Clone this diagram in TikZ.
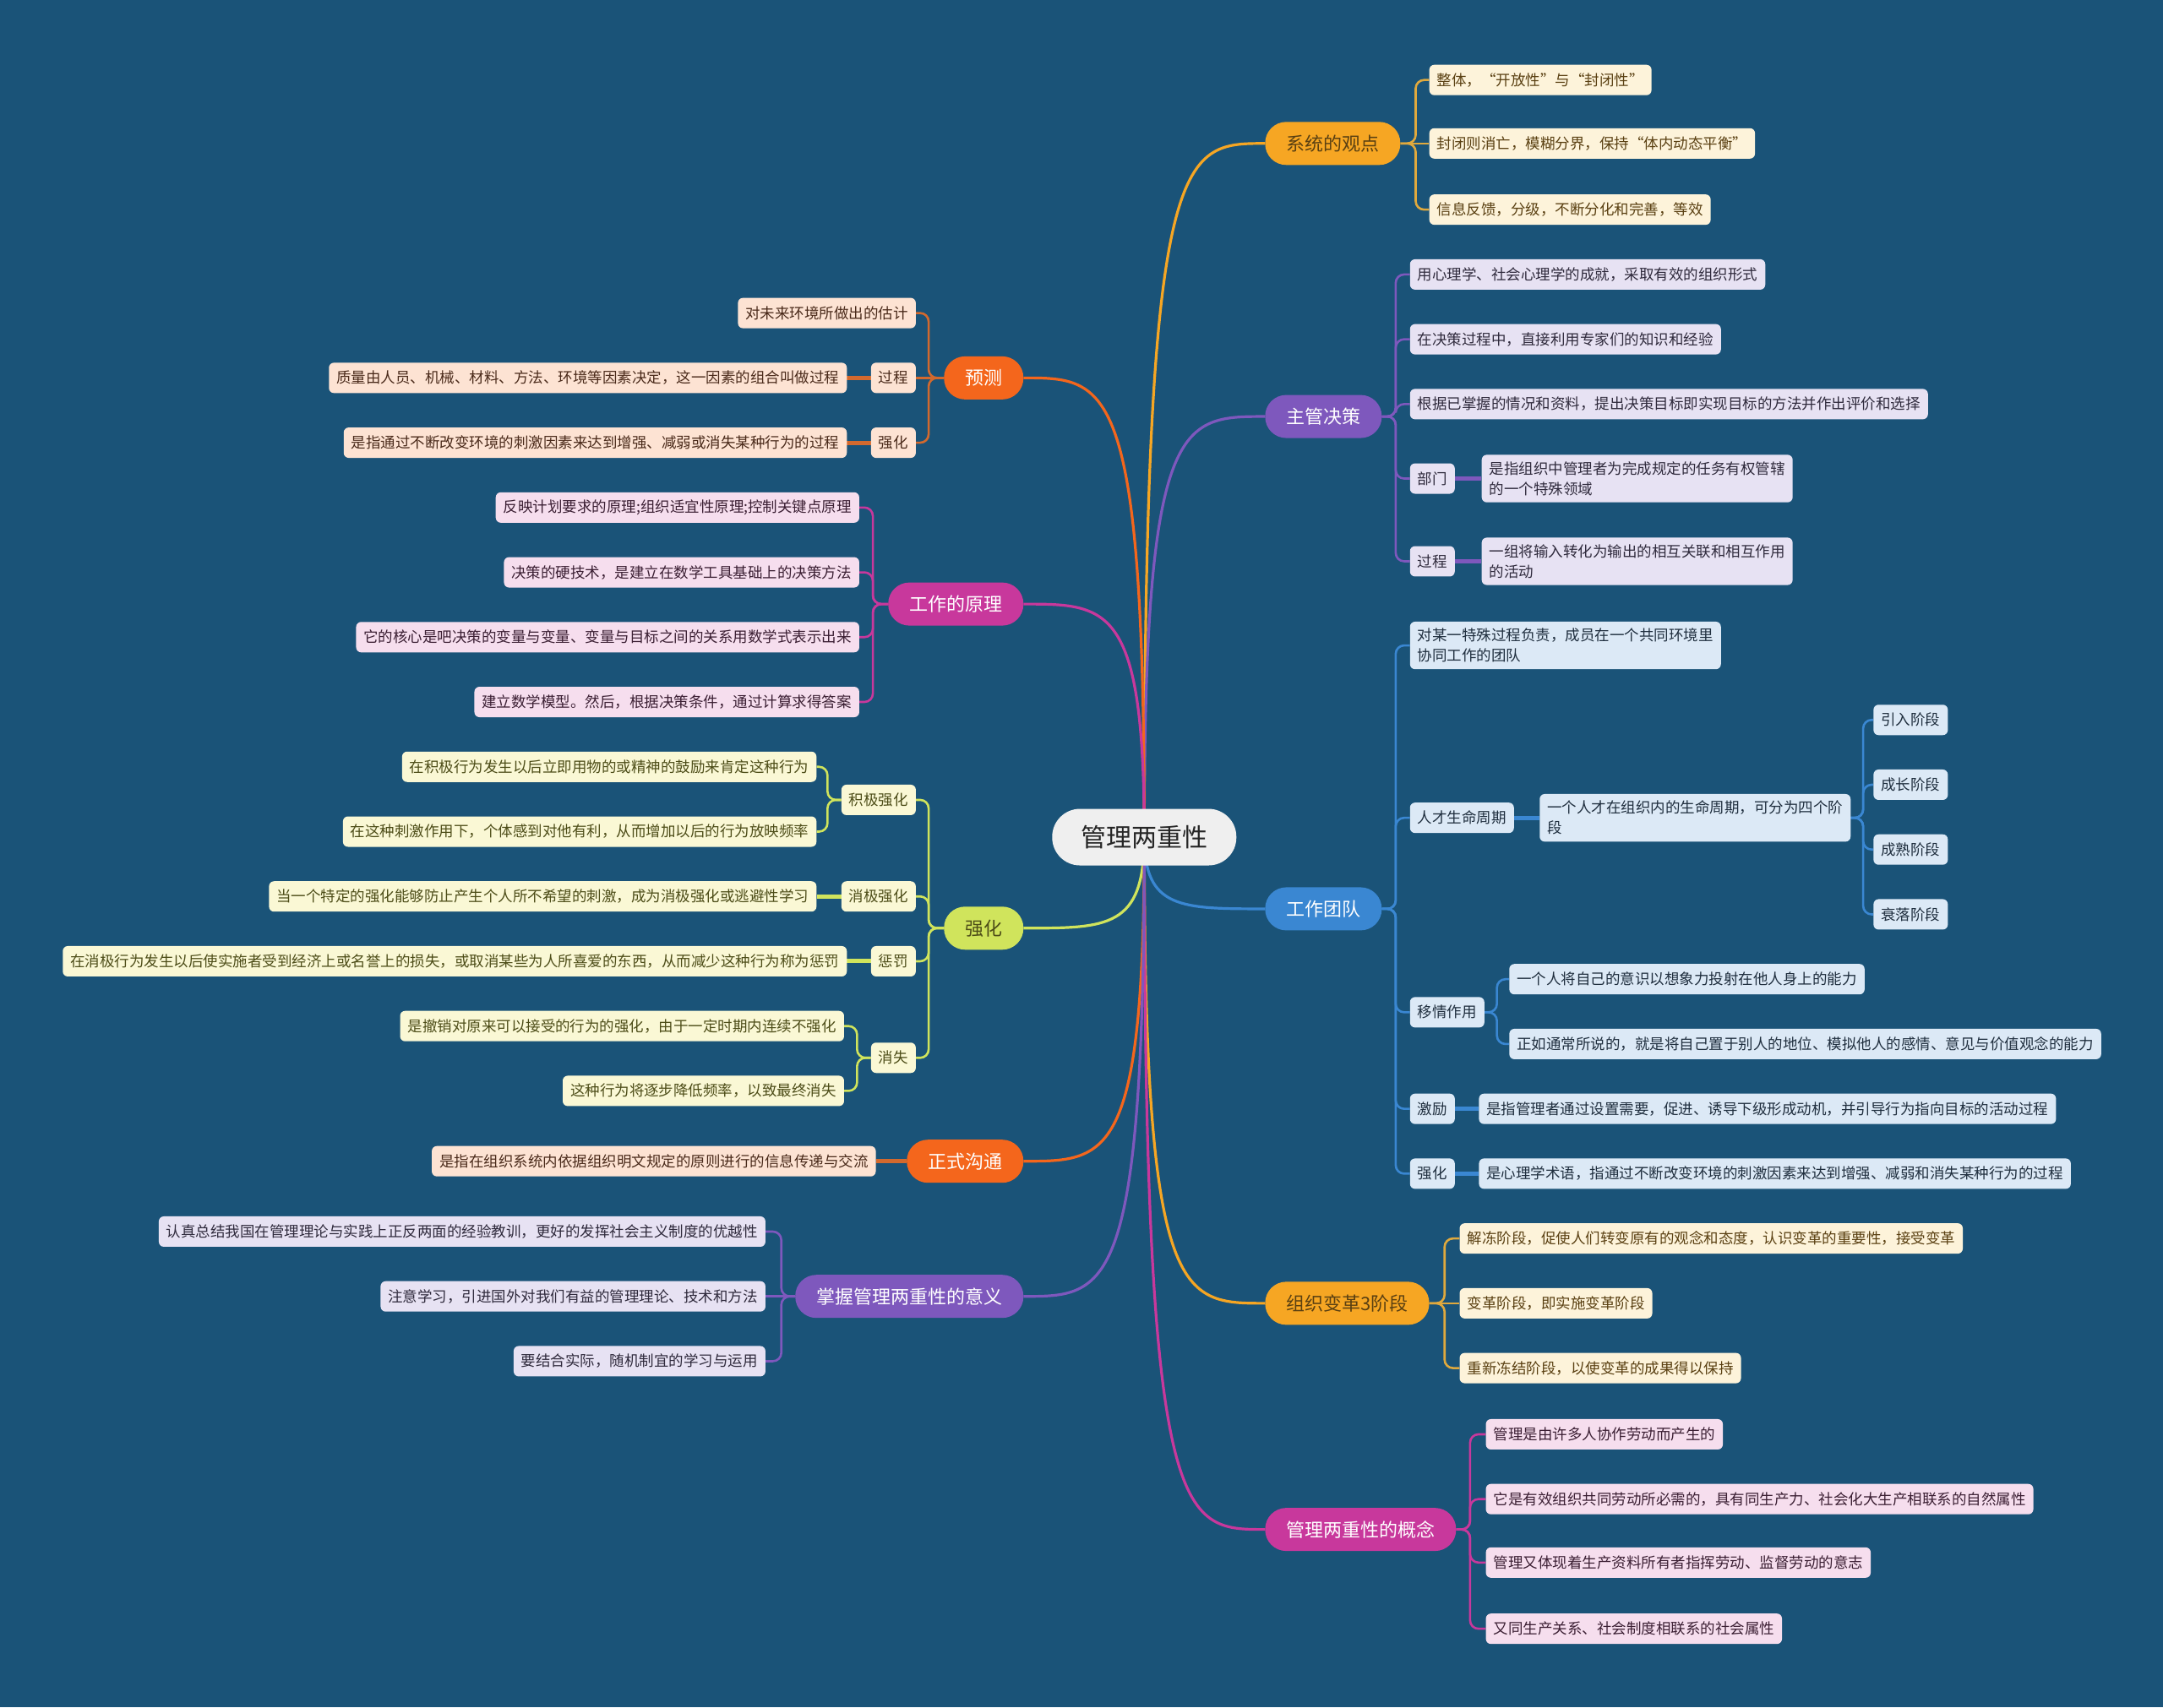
\documentclass[tikz,border=0pt]{standalone}
\usepackage{fontspec}
\setmainfont{Noto Sans CJK SC}
\usetikzlibrary{calc,backgrounds}

\definecolor{bgc}{HTML}{1A5378}
\definecolor{rootc}{HTML}{EFEFEF}
\definecolor{orM}{HTML}{F6A623}
\definecolor{orL}{HTML}{FDF3DA}
\definecolor{orT}{HTML}{5A4012}
\definecolor{orK}{HTML}{E0A93D}
\definecolor{puM}{HTML}{7E58BD}
\definecolor{puL}{HTML}{E7E2F3}
\definecolor{puT}{HTML}{2F2A3C}
\definecolor{blM}{HTML}{3A87D2}
\definecolor{blL}{HTML}{DCE9F6}
\definecolor{blT}{HTML}{1F2E3E}
\definecolor{mgM}{HTML}{C8389C}
\definecolor{mgL}{HTML}{F6DEEE}
\definecolor{mgT}{HTML}{3B1F33}
\definecolor{rdM}{HTML}{F4661C}
\definecolor{rdL}{HTML}{FDE3D3}
\definecolor{rdT}{HTML}{4A2A1A}
\definecolor{rdK}{HTML}{D2692E}
\definecolor{ygM}{HTML}{D0E45C}
\definecolor{ygL}{HTML}{FAF8D5}
\definecolor{ygT}{HTML}{4D4D18}

\tikzset{
  rootnode/.style={fill=rootc, text=black!85, rounded corners=33pt, minimum height=67pt, inner xsep=34pt, font=\fontsize{30}{34}\selectfont},
  branch/.style={rounded corners=25pt, minimum height=51pt, inner xsep=25pt, inner ysep=0pt, font=\fontsize{22}{26}\selectfont},
  leaf/.style={rounded corners=6pt, minimum height=36pt, inner xsep=9pt, inner ysep=8pt, align=left, font=\fontsize{17.5}{24}\selectfont},
  orleaf/.style={leaf, fill=orL, text=orT},
  puleaf/.style={leaf, fill=puL, text=puT},
  blleaf/.style={leaf, fill=blL, text=blT},
  mgleaf/.style={leaf, fill=mgL, text=mgT},
  rdleaf/.style={leaf, fill=rdL, text=rdT},
  ygleaf/.style={leaf, fill=ygL, text=ygT},
  mainlink/.style={line width=3.2pt},
  link/.style={line width=2.6pt, rounded corners=10pt},
  stub/.style={line width=5pt},
}

\begin{document}
\begin{tikzpicture}[x=1.6327pt, y=-1.6327pt]
\useasboundingbox (0,0) rectangle (1568,1238);

% centre
\node[rootnode] (root) at (829.5,607) {管理两重性};

% right: 系统的观点
\node[branch, fill=orM, text=orT, anchor=west] (sys) at (917,104) {系统的观点};
\node[orleaf, anchor=west] (sys1) at (1036,58) {整体，“开放性”与“封闭性”};
\node[orleaf, anchor=west] (sys2) at (1036,104) {封闭则消亡，模糊分界，保持“体内动态平衡”};
\node[orleaf, anchor=west] (sys3) at (1036,152) {信息反馈，分级，不断分化和完善，等效};

% right: 主管决策
\node[branch, fill=puM, text=white, anchor=west] (zgjc) at (917,302) {主管决策};
\node[puleaf, anchor=west] (zgjc1) at (1022,199) {用心理学、社会心理学的成就，采取有效的组织形式};
\node[puleaf, anchor=west] (zgjc2) at (1022,246) {在决策过程中，直接利用专家们的知识和经验};
\node[puleaf, anchor=west] (zgjc3) at (1022,293) {根据已掌握的情况和资料，提出决策目标即实现目标的方法并作出评价和选择};
\node[puleaf, anchor=west] (bumen) at (1022,347) {部门};
\node[puleaf, anchor=west] (bumenx) at (1074,347) {是指组织中管理者为完成规定的任务有权管辖\\的一个特殊领域};
\node[puleaf, anchor=west] (guoc) at (1022,407) {过程};
\node[puleaf, anchor=west] (guocx) at (1074,407) {一组将输入转化为输出的相互关联和相互作用\\的活动};

% right: 工作团队
\node[branch, fill=blM, text=white, anchor=west] (team) at (917,659) {工作团队};
\node[blleaf, anchor=west] (team1) at (1022,468) {对某一特殊过程负责，成员在一个共同环境里\\协同工作的团队};
\node[blleaf, anchor=west] (rcsm) at (1022,593) {人才生命周期};
\node[blleaf, anchor=west] (rcsmx) at (1116,593) {一个人才在组织内的生命周期，可分为四个阶\\段};
\node[blleaf, anchor=west] (st1) at (1358,522) {引入阶段};
\node[blleaf, anchor=west] (st2) at (1358,569) {成长阶段};
\node[blleaf, anchor=west] (st3) at (1358,616) {成熟阶段};
\node[blleaf, anchor=west] (st4) at (1358,663) {衰落阶段};
\node[blleaf, anchor=west] (yq) at (1022,734) {移情作用};
\node[blleaf, anchor=west] (yq1) at (1094,710) {一个人将自己的意识以想象力投射在他人身上的能力};
\node[blleaf, anchor=west] (yq2) at (1094,757) {正如通常所说的，就是将自己置于别人的地位、模拟他人的感情、意见与价值观念的能力};
\node[blleaf, anchor=west] (jl) at (1022,804) {激励};
\node[blleaf, anchor=west] (jlx) at (1072,804) {是指管理者通过设置需要，促进、诱导下级形成动机，并引导行为指向目标的活动过程};
\node[blleaf, anchor=west] (tqh) at (1022,851) {强化};
\node[blleaf, anchor=west] (tqhx) at (1072,851) {是心理学术语，指通过不断改变环境的刺激因素来达到增强、减弱和消失某种行为的过程};

% right: 组织变革3阶段
\node[branch, fill=orM, text=orT, anchor=west] (bg) at (917,945) {组织变革3阶段};
\node[orleaf, anchor=west] (bg1) at (1058,898) {解冻阶段，促使人们转变原有的观念和态度，认识变革的重要性，接受变革};
\node[orleaf, anchor=west] (bg2) at (1058,945) {变革阶段，即实施变革阶段};
\node[orleaf, anchor=west] (bg3) at (1058,992) {重新冻结阶段，以使变革的成果得以保持};

% right: 管理两重性的概念
\node[branch, fill=mgM, text=white, anchor=west] (gn) at (917,1109) {管理两重性的概念};
\node[mgleaf, anchor=west] (gn1) at (1077,1040) {管理是由许多人协作劳动而产生的};
\node[mgleaf, anchor=west] (gn2) at (1077,1087) {它是有效组织共同劳动所必需的，具有同生产力、社会化大生产相联系的自然属性};
\node[mgleaf, anchor=west] (gn3) at (1077,1133) {管理又体现着生产资料所有者指挥劳动、监督劳动的意志};
\node[mgleaf, anchor=west] (gn4) at (1077,1181) {又同生产关系、社会制度相联系的社会属性};

% left: 预测
\node[branch, fill=rdM, text=white, anchor=east] (yc) at (742,274) {预测};
\node[rdleaf, anchor=east] (yc1) at (664,227) {对未来环境所做出的估计};
\node[rdleaf, anchor=east] (ycgc) at (664,274) {过程};
\node[rdleaf, anchor=east] (ycgcx) at (614,274) {质量由人员、机械、材料、方法、环境等因素决定，这一因素的组合叫做过程};
\node[rdleaf, anchor=east] (ycqh) at (664,321) {强化};
\node[rdleaf, anchor=east] (ycqhx) at (614,321) {是指通过不断改变环境的刺激因素来达到增强、减弱或消失某种行为的过程};

% left: 工作的原理
\node[branch, fill=mgM, text=white, anchor=east] (yl) at (742,438) {工作的原理};
\node[mgleaf, anchor=east] (yl1) at (623,368) {反映计划要求的原理;组织适宜性原理;控制关键点原理};
\node[mgleaf, anchor=east] (yl2) at (623,415) {决策的硬技术，是建立在数学工具基础上的决策方法};
\node[mgleaf, anchor=east] (yl3) at (623,462) {它的核心是吧决策的变量与变量、变量与目标之间的关系用数学式表示出来};
\node[mgleaf, anchor=east] (yl4) at (623,509) {建立数学模型。然后，根据决策条件，通过计算求得答案};

% left: 强化
\node[branch, fill=ygM, text=ygT, anchor=east] (qh) at (742,673) {强化};
\node[ygleaf, anchor=east] (jjqh) at (664,580) {积极强化};
\node[ygleaf, anchor=east] (jjqh1) at (592,556) {在积极行为发生以后立即用物的或精神的鼓励来肯定这种行为};
\node[ygleaf, anchor=east] (jjqh2) at (592,603) {在这种刺激作用下，个体感到对他有利，从而增加以后的行为放映频率};
\node[ygleaf, anchor=east] (xjqh) at (664,650) {消极强化};
\node[ygleaf, anchor=east] (xjqhx) at (592,650) {当一个特定的强化能够防止产生个人所不希望的刺激，成为消极强化或逃避性学习};
\node[ygleaf, anchor=east] (cf) at (664,697) {惩罚};
\node[ygleaf, anchor=east] (cfx) at (614,697) {在消极行为发生以后使实施者受到经济上或名誉上的损失，或取消某些为人所喜爱的东西，从而减少这种行为称为惩罚};
\node[ygleaf, anchor=east] (xs) at (664,767) {消失};
\node[ygleaf, anchor=east] (xs1) at (612,744) {是撤销对原来可以接受的行为的强化，由于一定时期内连续不强化};
\node[ygleaf, anchor=east] (xs2) at (612,791) {这种行为将逐步降低频率，以致最终消失};

% left: 正式沟通
\node[branch, fill=rdM, text=white, anchor=east] (gt) at (742,842) {正式沟通};
\node[rdleaf, anchor=east] (gtx) at (635,842) {是指在组织系统内依据组织明文规定的原则进行的信息传递与交流};

% left: 掌握管理两重性的意义
\node[branch, fill=puM, text=white, anchor=east] (yy) at (742,940) {掌握管理两重性的意义};
\node[puleaf, anchor=east] (yy1) at (555,893) {认真总结我国在管理理论与实践上正反两面的经验教训，更好的发挥社会主义制度的优越性};
\node[puleaf, anchor=east] (yy2) at (555,940) {注意学习，引进国外对我们有益的管理理论、技术和方法};
\node[puleaf, anchor=east] (yy3) at (555,987) {要结合实际，随机制宜的学习与运用};

\begin{pgfonlayer}{background}
% backdrop
\fill[bgc] (0,0) rectangle (1568,1238);

% curves from the centre
\draw[mainlink, orM] (root.center) .. controls (root.center |- sys.west) and ($(root.center |- sys.west)!0.3!(sys.west)$) .. (sys.west);
\draw[mainlink, puM] (root.center) .. controls (root.center |- zgjc.west) and ($(root.center |- zgjc.west)!0.3!(zgjc.west)$) .. (zgjc.west);
\draw[mainlink, blM] (root.center) .. controls (root.center |- team.west) and ($(root.center |- team.west)!0.3!(team.west)$) .. (team.west);
\draw[mainlink, orM] (root.center) .. controls (root.center |- bg.west) and ($(root.center |- bg.west)!0.3!(bg.west)$) .. (bg.west);
\draw[mainlink, mgM] (root.center) .. controls (root.center |- gn.west) and ($(root.center |- gn.west)!0.3!(gn.west)$) .. (gn.west);
\draw[mainlink, rdM] (root.center) .. controls (root.center |- yc.east) and ($(root.center |- yc.east)!0.3!(yc.east)$) .. (yc.east);
\draw[mainlink, mgM] (root.center) .. controls (root.center |- yl.east) and ($(root.center |- yl.east)!0.3!(yl.east)$) .. (yl.east);
\draw[mainlink, ygM] (root.center) .. controls (root.center |- qh.east) and ($(root.center |- qh.east)!0.3!(qh.east)$) .. (qh.east);
\draw[mainlink, rdM] (root.center) .. controls (root.center |- gt.east) and ($(root.center |- gt.east)!0.3!(gt.east)$) .. (gt.east);
\draw[mainlink, puM] (root.center) .. controls (root.center |- yy.east) and ($(root.center |- yy.east)!0.3!(yy.east)$) .. (yy.east);

% 系统的观点
\draw[link, orK] (sys.east) -- ++(11,0) |- (sys1.west);
\draw[link, orK] (sys.east) -- (sys2.west);
\draw[link, orK] (sys.east) -- ++(11,0) |- (sys3.west);

% 主管决策
\draw[link, puM] (zgjc.east) -- ++(10,0) |- (zgjc1.west);
\draw[link, puM] (zgjc.east) -- ++(10,0) |- (zgjc2.west);
\draw[link, puM] (zgjc.east) -- ++(10,0) |- (zgjc3.west);
\draw[link, puM] (zgjc.east) -- ++(10,0) |- (bumen.west);
\draw[link, puM] (zgjc.east) -- ++(10,0) |- (guoc.west);
\draw[stub, puM] (bumen.east) -- (bumenx.west);
\draw[stub, puM] (guoc.east) -- (guocx.west);

% 工作团队
\draw[link, blM] (team.east) -- ++(10,0) |- (team1.west);
\draw[link, blM] (team.east) -- ++(10,0) |- (rcsm.west);
\draw[link, blM] (team.east) -- ++(10,0) |- (yq.west);
\draw[link, blM] (team.east) -- ++(10,0) |- (jl.west);
\draw[link, blM] (team.east) -- ++(10,0) |- (tqh.west);
\draw[stub, blM] (rcsm.east) -- (rcsmx.west);
\draw[link, blM] (rcsmx.east) -- ++(9,0) |- (st1.west);
\draw[link, blM] (rcsmx.east) -- ++(9,0) |- (st2.west);
\draw[link, blM] (rcsmx.east) -- ++(9,0) |- (st3.west);
\draw[link, blM] (rcsmx.east) -- ++(9,0) |- (st4.west);
\draw[link, blM] (yq.east) -- ++(9,0) |- (yq1.west);
\draw[link, blM] (yq.east) -- ++(9,0) |- (yq2.west);
\draw[stub, blM] (jl.east) -- (jlx.west);
\draw[stub, blM] (tqh.east) -- (tqhx.west);

% 组织变革3阶段
\draw[link, orK] (bg.east) -- ++(11,0) |- (bg1.west);
\draw[link, orK] (bg.east) -- (bg2.west);
\draw[link, orK] (bg.east) -- ++(11,0) |- (bg3.west);

% 管理两重性的概念
\draw[link, mgM] (gn.east) -- ++(10,0) |- (gn1.west);
\draw[link, mgM] (gn.east) -- ++(10,0) |- (gn2.west);
\draw[link, mgM] (gn.east) -- ++(10,0) |- (gn3.west);
\draw[link, mgM] (gn.east) -- ++(10,0) |- (gn4.west);

% 预测
\draw[link, rdK] (yc.west) -- ++(-11,0) |- (yc1.east);
\draw[link, rdK] (yc.west) -- (ycgc.east);
\draw[link, rdK] (yc.west) -- ++(-11,0) |- (ycqh.east);
\draw[stub, rdK] (ycgc.west) -- (ycgcx.east);
\draw[stub, rdK] (ycqh.west) -- (ycqhx.east);

% 工作的原理
\draw[link, mgM] (yl.west) -- ++(-11,0) |- (yl1.east);
\draw[link, mgM] (yl.west) -- ++(-11,0) |- (yl2.east);
\draw[link, mgM] (yl.west) -- ++(-11,0) |- (yl3.east);
\draw[link, mgM] (yl.west) -- ++(-11,0) |- (yl4.east);

% 强化
\draw[link, ygM] (qh.west) -- ++(-11,0) |- (jjqh.east);
\draw[link, ygM] (qh.west) -- ++(-11,0) |- (xjqh.east);
\draw[link, ygM] (qh.west) -- ++(-11,0) |- (cf.east);
\draw[link, ygM] (qh.west) -- ++(-11,0) |- (xs.east);
\draw[link, ygM] (jjqh.west) -- ++(-10,0) |- (jjqh1.east);
\draw[link, ygM] (jjqh.west) -- ++(-10,0) |- (jjqh2.east);
\draw[stub, ygM] (xjqh.west) -- (xjqhx.east);
\draw[stub, ygM] (cf.west) -- (cfx.east);
\draw[link, ygM] (xs.west) -- ++(-10,0) |- (xs1.east);
\draw[link, ygM] (xs.west) -- ++(-10,0) |- (xs2.east);

% 正式沟通
\draw[stub, rdK] (gt.west) -- (gtx.east);

% 掌握管理两重性的意义
\draw[link, puM] (yy.west) -- ++(-10,0) |- (yy1.east);
\draw[link, puM] (yy.west) -- (yy2.east);
\draw[link, puM] (yy.west) -- ++(-10,0) |- (yy3.east);
\end{pgfonlayer}

\end{tikzpicture}
\end{document}
